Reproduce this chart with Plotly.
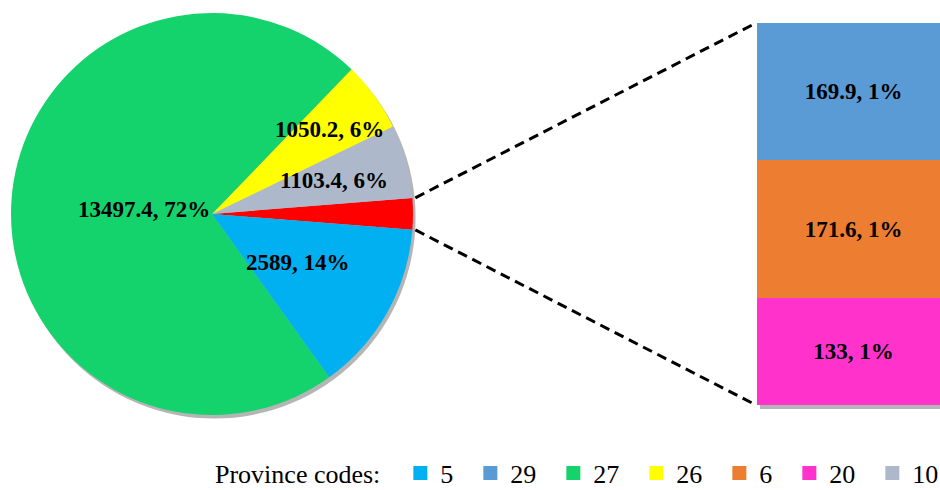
import math
import plotly.graph_objects as go

# ---------------- data ----------------
pie_codes = ["Other", "10", "26", "27", "5"]          # counter-clockwise from the red slice
pie_values = [None, 1103.4, 1050.2, 13497.4, 2589]   # "Other" is filled from the bar
bar_codes = ["20", "6", "29"]                         # bottom to top
bar_values = [133, 171.6, 169.9]
legend_codes = ["5", "29", "27", "26", "6", "20", "10"]
legend_title = "Province codes:"

colors = {
    "5": "#00B0F0", "29": "#5B9BD5", "27": "#14D36C", "26": "#FFFF00",
    "6": "#ED7D31", "20": "#FF33CC", "10": "#ADB9CA", "Other": "#FF0000",
}

pie_values[0] = sum(bar_values)
total = sum(pie_values)

def fmt(v):
    return f"{v:g}, {100 * v / total:.0f}%"

# ---------------- layout geometry ----------------
W, H = 940, 490
OFF = 0          # page body margin is removed below, figure starts at the window corner
FONT = "Liberation Serif"

def xp(X):       # window px -> paper x
    return (X - OFF) / W

def yp(Y):       # window px -> paper y
    return 1 - (Y - OFF) / H

pie_px = (11, 413, 13, 415)           # left, right, top, bottom in window px
pie_dom_x = [xp(pie_px[0]), xp(pie_px[1])]
pie_dom_y = [yp(pie_px[3]), yp(pie_px[2])]
rotation = 85.4                        # upper edge of the red slice, clockwise from 12 o'clock

bar_dom_x = [xp(757), 1.0]
bar_dom_y = [yp(405), yp(23)]

fig = go.Figure()

# soft shadow of the pie
sh = 2.5
fig.add_trace(go.Pie(
    values=[1], marker=dict(colors=["rgba(90,90,90,0.45)"], line=dict(width=0)),
    domain=dict(x=[xp(pie_px[0] + sh), xp(pie_px[1] + sh)],
                y=[yp(pie_px[3] + sh + 1), yp(pie_px[2] + sh + 1)]),
    textinfo="none", hoverinfo="skip", showlegend=False, sort=False,
))

fig.add_trace(go.Pie(
    labels=pie_codes, values=pie_values,
    marker=dict(colors=[colors[c] for c in pie_codes], line=dict(width=0)),
    domain=dict(x=pie_dom_x, y=pie_dom_y),
    sort=False, direction="counterclockwise", rotation=rotation,
    textinfo="none", showlegend=False,
))

# stacked bar of the "Other" slice
for code, val in zip(bar_codes, bar_values):
    fig.add_trace(go.Bar(
        x=[0], y=[val], width=1, name=code,
        marker=dict(color=colors[code], line=dict(width=0)),
        text=[f"<b>{fmt(val)}</b>"], textposition="inside", insidetextanchor="middle",
        textangle=0, constraintext="none",
        textfont=dict(family=FONT, size=23, color="black"),
        showlegend=False, xaxis="x", yaxis="y",
    ))

# legend entries
for code in legend_codes:
    fig.add_trace(go.Scatter(
        x=[None], y=[None], mode="markers", name=code,
        marker=dict(symbol="square", size=14, color=colors[code], line=dict(width=0)),
        showlegend=True,
    ))

# pie geometry in window px
cx = (pie_px[0] + pie_px[1]) / 2
cy = (pie_px[2] + pie_px[3]) / 2
R = min(pie_px[1] - pie_px[0], pie_px[3] - pie_px[2]) / 2

def pt(angle_cw_from_top, r):
    a = math.radians(angle_cw_from_top)
    return cx + r * math.sin(a), cy - r * math.cos(a)

# slice boundaries (clockwise-from-top angles); slice i spans [edges[i+1], edges[i]]
edges = [rotation + 360 * pie_values[0] / total, rotation]
for v in pie_values[1:]:
    edges.append(edges[-1] - 360 * v / total)

# labels for the pie slices (radial position as a fraction of the radius)
label_r = {"10": 0.63, "26": 0.72, "27": 0.34, "5": 0.49}
annotations = []
for i, code in enumerate(pie_codes):
    if code not in label_r:
        continue
    mid = (edges[i] + edges[i + 1]) / 2
    x, y = pt(mid, R * label_r[code])
    annotations.append(dict(
        x=xp(x), y=yp(y), xref="paper", yref="paper", showarrow=False,
        text=f"<b>{fmt(pie_values[i])}</b>",
        font=dict(family=FONT, size=23, color="black"),
        xanchor="center", yanchor="middle",
    ))

# connector lines from the red slice to the bar
shapes = []
lo = pt(edges[0], R + 1)
hi = pt(edges[1], R + 1)
for (px, py), (bx, by) in [(hi, (bar_dom_x[0], bar_dom_y[1])), (lo, (bar_dom_x[0], bar_dom_y[0]))]:
    shapes.append(dict(
        type="line", xref="paper", yref="paper",
        x0=xp(px + 2), y0=yp(py), x1=bx - 1 / W, y1=by,
        line=dict(color="black", width=3, dash="10px,6px"),
    ))
# bar shadow
shapes.append(dict(
    type="rect", xref="paper", yref="paper", layer="below",
    x0=bar_dom_x[0] + 3 / W, x1=1.0, y0=bar_dom_y[0] - 4 / H, y1=bar_dom_y[1] - 2 / H,
    fillcolor="rgba(90,90,90,0.45)", line=dict(width=0),
))

fig.update_layout(
    width=W, height=H,
    margin=dict(l=0, r=0, t=0, b=0, autoexpand=False),
    paper_bgcolor="white", plot_bgcolor="rgba(0,0,0,0)",
    barmode="stack", bargap=0,
    xaxis=dict(domain=bar_dom_x, range=[-0.5, 0.45], visible=False, fixedrange=True),
    yaxis=dict(domain=bar_dom_y, range=[0, sum(bar_values)], visible=False, fixedrange=True),
    shapes=shapes,
    annotations=annotations,
    showlegend=True,
    legend=dict(
        orientation="h", x=xp(213), xanchor="left", y=yp(473), yanchor="middle",
        title=dict(text=legend_title, side="left", font=dict(family=FONT, size=26, color="black")),
        font=dict(family=FONT, size=26, color="black"),
        indentation=12, itemwidth=30,
        bgcolor="rgba(0,0,0,0)", traceorder="normal",
    ),
)

fig.write_html(
    "out.html",
    config={"displayModeBar": False},
    post_script="document.body.style.margin='0px';document.body.style.overflow='hidden';",
)
